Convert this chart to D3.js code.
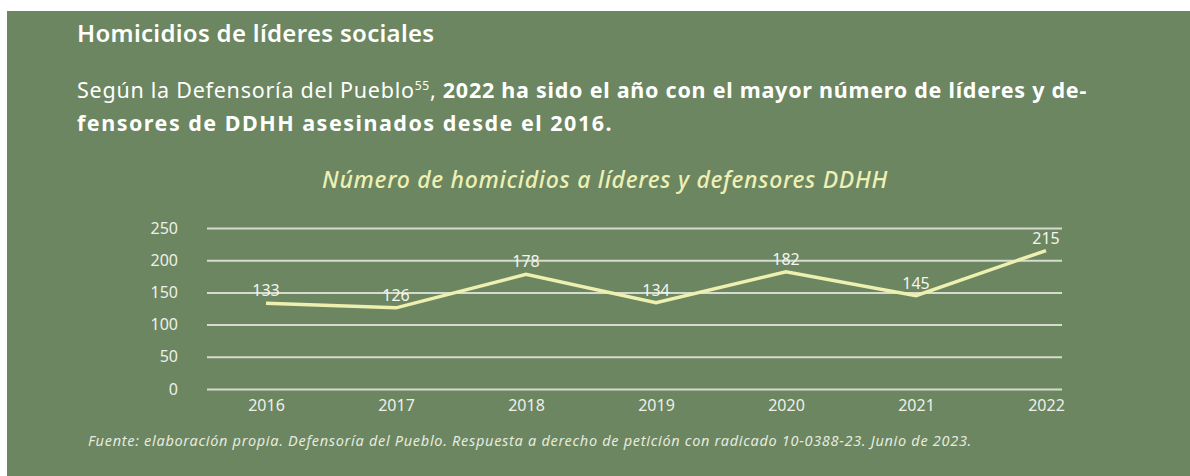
<!DOCTYPE html>
<html>
<head>
<meta charset="utf-8">
<script src="https://cdn.jsdelivr.net/npm/d3@7"></script>
<style>
  body { margin: 0; background: #ffffff; }
  svg { display: block; }
  text { font-family: "Noto Sans", "Open Sans", sans-serif; }
</style>
</head>
<body>
<script>
// data
var years = ["2016", "2017", "2018", "2019", "2020", "2021", "2022"];
var homicidios = [133, 126, 178, 134, 182, 145, 215];
var yTicks = [0, 50, 100, 150, 200, 250];

var w = 1190;
var h = 476;

var svg = d3.select("body")
            .append("svg")
            .attr("width", w)
            .attr("height", h);

// green panel
svg.append("rect")
    .attr("x", 7)
    .attr("y", 11)
    .attr("width", w - 7)
    .attr("height", h - 11)
    .attr("fill", "#6b8661");

// heading
svg.append("text")
    .attr("x", 77)
    .attr("y", 42)
    .attr("fill", "#ffffff")
    .attr("font-size", 24)
    .attr("font-weight", 600)
    .attr("letter-spacing", 0.3)
    .text("Homicidios de líderes sociales");

var sub = svg.append("text")
    .attr("x", 77)
    .attr("y", 98)
    .attr("fill", "#ffffff")
    .attr("font-size", 21.5)
    .attr("letter-spacing", 0.75);
sub.append("tspan").text("Según la Defensoría del Pueblo");
sub.append("tspan").attr("font-size", 12).attr("dy", -8).text("55");
sub.append("tspan").attr("dy", 8).text(", ");
sub.append("tspan").attr("font-weight", 700)
    .text("2022 ha sido el año con el mayor número de líderes y de-");

svg.append("text")
    .attr("x", 77)
    .attr("y", 131)
    .attr("fill", "#ffffff")
    .attr("font-size", 21.5)
    .attr("font-weight", 700)
    .attr("letter-spacing", 1.5)
    .text("fensores de DDHH asesinados desde el 2016.");

// chart title
svg.append("text")
    .attr("x", 605)
    .attr("y", 188)
    .attr("text-anchor", "middle")
    .attr("fill", "#eef0b4")
    .attr("font-size", 23)
    .attr("font-weight", 500)
    .attr("font-style", "italic")
    .attr("letter-spacing", 0.7)
    .text("Número de homicidios a líderes y defensores DDHH");

// scales
var xScale = d3.scalePoint()
    .domain(years)
    .range([266, 1046]);

var yScale = d3.scaleLinear()
    .domain([0, 250])
    .range([389, 228]);

// grid + y labels
var yAxis = d3.axisLeft(yScale)
    .tickValues(yTicks)
    .tickSize(-(1062 - 207))
    .tickPadding(29);

var gy = svg.append("g")
    .attr("transform", "translate(207,0)")
    .call(yAxis);
gy.select(".domain").remove();
gy.selectAll(".tick line")
    .attr("stroke", "#d6dccd")
    .attr("stroke-width", 2);
gy.selectAll(".tick text")
    .attr("fill", "#eef0e8")
    .attr("font-size", 16)
    .style("font-family", "'Noto Sans', sans-serif");

// x labels
var xAxis = d3.axisBottom(xScale).tickSize(0).tickPadding(11);
var gx = svg.append("g")
    .attr("transform", "translate(0,389)")
    .call(xAxis);
gx.select(".domain").remove();
gx.selectAll(".tick text")
    .attr("fill", "#eef0e8")
    .attr("font-size", 16)
    .style("font-family", "'Noto Sans', sans-serif");

// line
var line = d3.line()
    .x((d, i) => xScale(years[i]))
    .y((d) => yScale(d));

svg.append("path")
    .datum(homicidios)
    .attr("fill", "none")
    .attr("stroke", "#eef0b0")
    .attr("stroke-width", 3.5)
    .attr("d", line);

// value labels
svg.selectAll(".val")
    .data(homicidios)
    .enter()
    .append("text")
    .attr("class", "val")
    .attr("x", (d, i) => xScale(years[i]))
    .attr("y", (d) => yScale(d) - 7)
    .attr("text-anchor", "middle")
    .attr("fill", "#f4f5ee")
    .attr("font-size", 16)
    .text((d) => d);

// source
svg.append("text")
    .attr("x", 88)
    .attr("y", 446)
    .attr("fill", "#e6eadf")
    .attr("font-size", 14.5)
    .attr("font-style", "italic")
    .attr("letter-spacing", 0.7)
    .text("Fuente: elaboración propia. Defensoría del Pueblo. Respuesta a derecho de petición con radicado 10-0388-23. Junio de 2023.");
</script>
</body>
</html>
